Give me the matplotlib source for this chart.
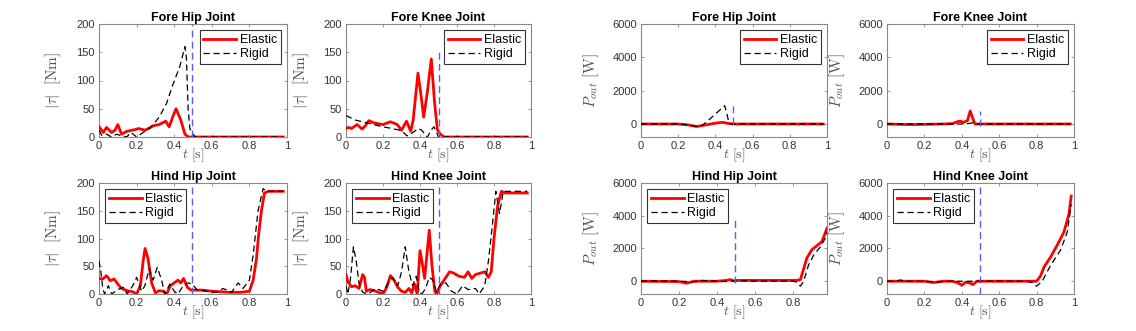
import numpy as np
import matplotlib
matplotlib.use('Agg')
import matplotlib.pyplot as plt

plt.rcParams['font.family'] = ['Liberation Sans', 'DejaVu Sans']
plt.rcParams['mathtext.fontset'] = 'cm'

# ---- torque |tau| [Nm] ----
fh_tau_el_t = [0, 0.014, 0.023, 0.04, 0.067, 0.085, 0.1, 0.12, 0.147, 0.19, 0.21, 0.245, 0.29, 0.32,
               0.355, 0.373, 0.395, 0.41, 0.435, 0.457, 0.475, 0.5, 0.98]
fh_tau_el = [18, 12, 8, 17, 8, 12, 22, 5, 10, 13, 15, 12, 20, 22, 28, 18, 38, 50, 30, 5, 0, 0, 0]
fh_tau_rg_t = [0, 0.014, 0.04, 0.067, 0.094, 0.12, 0.147, 0.17, 0.2, 0.235, 0.27, 0.32, 0.36, 0.39,
               0.43, 0.457, 0.465, 0.474, 0.483, 0.5, 0.513, 0.98]
fh_tau_rg = [12, 3, 5, 0, 5, 2, 0, 8, 0, 8, 15, 35, 60, 90, 125, 160, 140, 50, 15, 5, 0, 0]

fk_tau_el_t = [0, 0.014, 0.03, 0.06, 0.087, 0.105, 0.123, 0.15, 0.2, 0.24, 0.277, 0.3, 0.327, 0.35,
               0.363, 0.389, 0.403, 0.42, 0.44, 0.461, 0.479, 0.494, 0.51, 0.53, 0.98]
fk_tau_el = [15, 17, 15, 22, 14, 20, 29, 25, 22, 27, 22, 12, 28, 10, 30, 113, 80, 35, 80, 138, 60,
             13, 5, 0, 0]
fk_tau_rg_t = [0, 0.05, 0.1, 0.15, 0.2, 0.25, 0.29, 0.31, 0.33, 0.35, 0.37, 0.39, 0.41, 0.43, 0.44,
               0.46, 0.475, 0.49, 0.5, 0.98]
fk_tau_rg = [38, 30, 26, 22, 18, 15, 12, 8, 2, 5, 10, 15, 12, 3, 0, 12, 18, 8, 0, 0]

hh_tau_el_t = [0, 0.02, 0.04, 0.06, 0.08, 0.1, 0.12, 0.15, 0.18, 0.2, 0.22, 0.235, 0.245, 0.26, 0.28,
               0.3, 0.32, 0.34, 0.36, 0.38, 0.4, 0.42, 0.435, 0.45, 0.47, 0.49, 0.55, 0.6, 0.65, 0.7,
               0.75, 0.8, 0.82, 0.837, 0.85, 0.864, 0.88, 0.9, 0.98]
hh_tau_el = [28, 27, 33, 24, 27, 18, 10, 6, 4, 0, 15, 60, 82, 65, 20, 2, 6, 5, 0, 15, 20, 25, 20, 28,
             12, 7, 7, 5, 4, 3, 3, 5, 25, 62, 110, 150, 182, 185, 185]
hh_tau_rg_t = [0, 0.01, 0.02, 0.03, 0.05, 0.067, 0.1, 0.13, 0.15, 0.18, 0.2, 0.227, 0.244, 0.267,
               0.288, 0.31, 0.333, 0.35, 0.377, 0.4, 0.42, 0.448, 0.474, 0.496, 0.52, 0.57, 0.625,
               0.66, 0.705, 0.74, 0.766, 0.8, 0.82, 0.846, 0.873, 0.89, 0.98]
hh_tau_rg = [60, 40, 10, 0, 15, 0, 8, 12, 0, 15, 30, 5, 15, 45, 25, 48, 25, 0, 18, 5, 0, 15, 20, 18,
             8, 5, 3, 10, 3, 20, 10, 25, 70, 150, 190, 185, 185]

hk_tau_el_t = [0, 0.01, 0.03, 0.05, 0.07, 0.09, 0.1, 0.11, 0.13, 0.16, 0.2, 0.22, 0.24, 0.26, 0.28,
               0.3, 0.32, 0.34, 0.355, 0.37, 0.385, 0.4, 0.415, 0.425, 0.44, 0.45, 0.465, 0.48, 0.49,
               0.51, 0.53, 0.56, 0.58, 0.61, 0.64, 0.66, 0.68, 0.7, 0.73, 0.75, 0.77, 0.785, 0.8,
               0.82, 0.84, 0.86, 0.98]
hk_tau_el = [35, 22, 13, 15, 10, 35, 30, 5, 8, 5, 0, 12, 33, 25, 12, 5, 3, 10, 2, 18, 0, 78, 50, 28,
             80, 115, 50, 5, 0, 15, 25, 40, 38, 32, 30, 40, 28, 35, 38, 40, 30, 40, 100, 160, 185,
             182, 182]
hk_tau_rg_t = [0, 0.01, 0.025, 0.04, 0.055, 0.07, 0.09, 0.12, 0.16, 0.2, 0.22, 0.25, 0.28, 0.3, 0.32,
               0.34, 0.36, 0.38, 0.395, 0.41, 0.43, 0.45, 0.47, 0.49, 0.51, 0.54, 0.57, 0.6, 0.63,
               0.66, 0.7, 0.72, 0.75, 0.77, 0.79, 0.81, 0.83, 0.85, 0.98]
hk_tau_rg = [15, 0, 30, 85, 60, 20, 3, 0, 10, 5, 15, 30, 15, 40, 85, 40, 15, 32, 5, 0, 10, 30, 25, 3,
             18, 20, 5, 0, 15, 8, 10, 0, 15, 60, 120, 185, 145, 185, 185]

# ---- output power P_out [W] ----
fh_p_el_t = [0, 0.2, 0.25, 0.3, 0.35, 0.4, 0.44, 0.47, 0.5, 0.98]
fh_p_el = [0, 0, -50, -150, -50, 50, 100, 30, 0, 0]
fh_p_rg_t = [0, 0.2, 0.25, 0.3, 0.33, 0.37, 0.41, 0.45, 0.46, 0.47, 0.48, 0.5, 0.98]
fh_p_rg = [0, 0, -50, -150, -80, 300, 700, 1100, 700, 200, 0, 0, 0]

fk_p_el_t = [0, 0.1, 0.15, 0.3, 0.35, 0.38, 0.39, 0.41, 0.43, 0.445, 0.46, 0.47, 0.5, 0.98]
fk_p_el = [0, -30, -30, 0, 20, 150, 170, 100, 200, 780, 300, 0, 0, 0]
fk_p_rg_t = [0, 0.4, 0.44, 0.46, 0.48, 0.98]
fk_p_rg = [0, 0, 30, 80, 0, 0]

hh_p_el_t = [0, 0.2, 0.24, 0.28, 0.4, 0.45, 0.47, 0.49, 0.5, 0.8, 0.82, 0.84, 0.874, 0.9, 0.953, 0.98]
hh_p_el = [0, -20, -120, 0, 0, 50, 100, 20, 50, 50, 50, 100, 1420, 1920, 2420, 3240]
hh_p_rg_t = [0, 0.1, 0.2, 0.28, 0.32, 0.4, 0.45, 0.48, 0.5, 0.6, 0.8, 0.82, 0.84, 0.857, 0.883,
             0.91, 0.945, 0.97, 0.98]
hh_p_rg = [0, 20, 0, -30, 50, 0, -20, 0, 30, 0, 0, -50, -300, 0, 1000, 1600, 2100, 2600, 3000]

hk_p_el_t = [0, 0.2, 0.25, 0.3, 0.35, 0.38, 0.4, 0.42, 0.44, 0.46, 0.48, 0.5, 0.78, 0.8, 0.82,
             0.84, 0.875, 0.91, 0.946, 0.973, 0.985]
hk_p_el = [0, 0, -80, 0, 0, -100, -250, -60, -100, -200, 0, 0, 0, 0, 300, 870, 1480, 2200, 3000,
           4100, 5200]
hk_p_rg_t = [0, 0.05, 0.07, 0.1, 0.3, 0.35, 0.45, 0.5, 0.75, 0.78, 0.8, 0.83, 0.875, 0.928, 0.964,
             0.985]
hk_p_rg = [0, 0, 80, 0, -30, 0, 0, 0, 0, -100, -300, 0, 975, 1900, 3000, 4700]

# blue marker line: time and vertical extent
td_line = [0.496, 0.503, 0.496, 0.503, 0.496, 0.495, 0.496, 0.495]
td_lo = [0, 0, 0, 0, 0, -100, -100, -780]
td_hi = [200, 150, 200, 200, 1150, 800, 3900, 6000]

titles = ['Fore Hip Joint', 'Fore Knee Joint', 'Hind Hip Joint', 'Hind Knee Joint'] * 2
tau_ticks = [0, 50, 100, 150, 200]
p_ticks = [0, 2000, 4000, 6000]
t_ticks = [0, 0.2, 0.4, 0.6, 0.8, 1]

panels = [
    (fh_tau_el_t, fh_tau_el, fh_tau_rg_t, fh_tau_rg),
    (fk_tau_el_t, fk_tau_el, fk_tau_rg_t, fk_tau_rg),
    (hh_tau_el_t, hh_tau_el, hh_tau_rg_t, hh_tau_rg),
    (hk_tau_el_t, hk_tau_el, hk_tau_rg_t, hk_tau_rg),
    (fh_p_el_t, fh_p_el, fh_p_rg_t, fh_p_rg),
    (fk_p_el_t, fk_p_el, fk_p_rg_t, fk_p_rg),
    (hh_p_el_t, hh_p_el, hh_p_rg_t, hh_p_rg),
    (hk_p_el_t, hk_p_el, hk_p_rg_t, hk_p_rg),
]

W, H = 1136, 331
fig = plt.figure(figsize=(W / 100, H / 100), dpi=100)

# pixel boxes (left, top, right, bottom)
cols = [(99, 287), (346, 531), (641, 827), (887, 1074)]
rows = [(24, 137), (183, 294)]
# order: torque FH, FK, HH, HK, power FH, FK, HH, HK
slots = [(0, 0), (0, 1), (1, 0), (1, 1), (0, 2), (0, 3), (1, 2), (1, 3)]

gray = '#333333'
for i, (elt, el, rgt, rg) in enumerate(panels):
    r, c = slots[i]
    x0, x1 = cols[c]
    y0, y1 = rows[r]
    ax = fig.add_axes([x0 / W, 1 - y1 / H, (x1 - x0) / W, (y1 - y0) / H])
    ax.plot(elt, el, color='red', lw=2.0, label='Elastic', zorder=3)
    ax.plot(rgt, rg, color='black', lw=0.9, ls=(0, (5, 3)), label='Rigid', zorder=4)
    ax.plot([td_line[i], td_line[i]], [td_lo[i], td_hi[i]], color='#5a5aff', lw=1.0,
            ls=(0, (5, 3)), zorder=5)

    power = i >= 4
    if power:
        ax.set_ylim(-780, 6000)
        ax.set_yticks(p_ticks)
        ax.set_ylabel(r'$P_{out}\ [\mathrm{W}]$', fontsize=11, color='#555555')
        ax.yaxis.set_label_coords(-0.215, 0.5)
    else:
        ax.set_ylim(0, 200)
        ax.set_yticks(tau_ticks)
        ax.set_ylabel(r'$|\tau|\ \ [\mathrm{Nm}]$', fontsize=11, color='#555555')
        ax.yaxis.set_label_coords(-0.19, 0.5)
    if i == 6:
        ax.set_xlim(0, 0.98)
    else:
        ax.set_xlim(0, 1)
    ax.set_xticks([tk for tk in t_ticks if tk <= ax.get_xlim()[1]])
    ax.set_xticklabels(['%g' % tk for tk in ax.get_xticks()])
    ax.set_xlabel(r'$t\ [\mathrm{s}]$', fontsize=10, color='#555555')
    ax.xaxis.set_label_coords(0.5, -0.165)
    ax.xaxis.label.set_va('center')

    ax.set_title(titles[i], fontsize=9, fontweight='bold', pad=2.5)
    ax.tick_params(direction='in', length=2.5, width=0.6, labelsize=8, colors='#888888',
                   labelcolor=gray, top=True, right=True, pad=3)
    for s in ax.spines.values():
        s.set_color('#888888')
        s.set_linewidth(0.8)

    leg = ax.legend(loc='upper right' if r == 0 else 'upper left', fontsize=9, frameon=True,
                    fancybox=False, edgecolor='#333333', framealpha=1, handlelength=2.6,
                    handletextpad=0.3, borderpad=0.3, labelspacing=0.15, borderaxespad=0.5)
    leg.get_frame().set_linewidth(0.8)

fig.savefig('out.png', dpi=100)
